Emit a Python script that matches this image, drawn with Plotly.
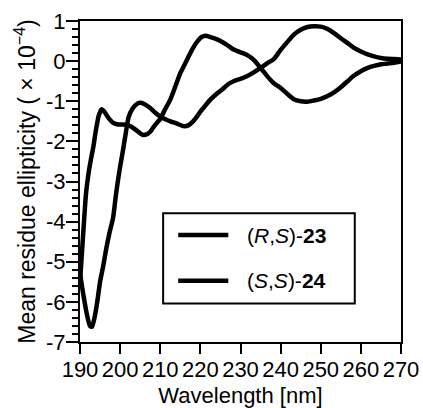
import plotly.graph_objects as go

# CD spectra: mean residue ellipticity (x 10^-4) versus wavelength (nm)
wl_23 = [190, 190.4, 190.8, 191.5, 192.2, 192.7, 193.3, 194, 194.7, 195.4, 196, 197,
         198.3, 199.5, 200.8, 202, 202.9, 204, 205, 205.8, 206.7, 207.5, 208.5, 209.3,
         210, 211, 212.5, 213.8, 215, 216.7, 218, 219.3, 220.3, 221.3, 222.5, 224, 225,
         226.7, 228.3, 230, 231.7, 233.3, 235, 236.7, 238.3, 240, 241.7, 243.3, 245,
         246.7, 248.3, 250, 251.7, 253.3, 255, 256.7, 258.3, 260, 261.7, 263.3, 265,
         266.7, 268.3, 270]
mre_23 = [-5.5, -4.9, -4.3, -3.3, -2.75, -2.46, -2.15, -1.7, -1.35, -1.2, -1.25, -1.4,
          -1.54, -1.58, -1.58, -1.6, -1.64, -1.72, -1.8, -1.84, -1.82, -1.76, -1.62, -1.52,
          -1.44, -1.24, -0.96, -0.62, -0.3, 0.04, 0.3, 0.5, 0.6, 0.63, 0.6, 0.55, 0.5,
          0.4, 0.29, 0.22, 0.15, 0.03, -0.17, -0.38, -0.55, -0.67, -0.82, -0.95, -1.0,
          -1.01, -0.98, -0.94, -0.87, -0.78, -0.65, -0.5, -0.36, -0.25, -0.17, -0.12, -0.08,
          -0.06, -0.04, -0.01]

wl_24 = [190, 190.8, 191.7, 192.5, 193, 193.6, 194.3, 195, 195.8, 196.5, 197.3, 198.25,
         199, 199.8, 200.75, 201.4, 202.1, 203, 204, 205, 206, 207.5, 208.7, 210, 211.3,
         212.5, 214, 215.8, 217, 218, 219, 220, 221.3, 222.5, 224, 225.5, 227, 228.3, 230,
         231.7, 233.3, 235, 236.7, 238.3, 240, 241.7, 243.3, 245, 246.7, 248.3, 250, 251.7,
         253.3, 255, 256.7, 258.3, 260, 261.7, 263.3, 265, 266.7, 268.3, 270]
mre_24 = [-5.3, -5.8, -6.3, -6.6, -6.62, -6.4, -6.0, -5.5, -5.1, -4.7, -4.3, -3.9,
          -3.3, -2.75, -2.2, -1.8, -1.4, -1.2, -1.08, -1.04, -1.07, -1.17, -1.28, -1.38, -1.45,
          -1.5, -1.55, -1.62, -1.6, -1.52, -1.4, -1.26, -1.1, -0.96, -0.82, -0.7, -0.57, -0.5, -0.44,
          -0.37, -0.28, -0.17, -0.05, 0.05, 0.28, 0.48, 0.66, 0.78, 0.85, 0.87, 0.86, 0.8,
          0.7, 0.57, 0.45, 0.33, 0.24, 0.17, 0.12, 0.08, 0.06, 0.05, 0.04]

x_ticks = [190, 200, 210, 220, 230, 240, 250, 260, 270]
y_ticks = [1, 0, -1, -2, -3, -4, -5, -6, -7]
y_tick_text = ["1", "0", "-1", "-2", "-3", "-4", "-5", "-6", "-7"]

series_names = ["(<i>R</i>,<i>S</i>)-<b>23</b>", "(<i>S</i>,<i>S</i>)-<b>24</b>"]
series_x = [wl_23, wl_24]
series_y = [mre_23, mre_24]

FONT = "Liberation Sans, Arial, sans-serif"
LINE_W = 4.5

fig = go.Figure()
for name, x, y in zip(series_names, series_x, series_y):
    fig.add_trace(go.Scatter(
        x=x, y=y, mode="lines", name=name, showlegend=False,
        line=dict(color="black", width=LINE_W, shape="spline", smoothing=0.6),
    ))

# Boxed key inside the lower-right part of the axes (paper coordinates)
key_x0, key_x1 = 0.259, 0.856
key_y0, key_y1 = 0.120, 0.401
key_rows = [0.333, 0.191]
fig.add_shape(type="rect", xref="paper", yref="paper",
              x0=key_x0, x1=key_x1, y0=key_y0, y1=key_y1,
              line=dict(color="black", width=2), fillcolor="white", layer="above")
for name, ry in zip(series_names, key_rows):
    fig.add_shape(type="line", xref="paper", yref="paper",
                  x0=0.306, x1=0.462, y0=ry, y1=ry,
                  line=dict(color="black", width=LINE_W), layer="above")
    fig.add_annotation(xref="paper", yref="paper", x=0.515, y=ry,
                       xanchor="left", yanchor="middle", text=name,
                       showarrow=False, font=dict(size=21, color="black"))

fig.update_layout(
    width=423, height=408,
    margin=dict(l=80, r=22, t=21, b=66, autoexpand=False),
    paper_bgcolor="white", plot_bgcolor="white",
    font=dict(family=FONT, size=22, color="black"),
    showlegend=False,
)

fig.update_xaxes(
    range=[190, 270], tickvals=x_ticks, tickangle=0, automargin=False,
    ticks="outside", ticklen=10, tickwidth=2, tickcolor="black",
    tickfont=dict(size=22), ticklabelstandoff=-3,
    showline=True, linewidth=2, linecolor="black", mirror=True,
    showgrid=False, zeroline=False,
    title=dict(text="Wavelength [nm]", font=dict(size=22), standoff=13),
)
fig.update_yaxes(
    range=[-7, 1], tickvals=y_ticks, ticktext=y_tick_text, automargin=False,
    ticks="outside", ticklen=12, tickwidth=2, tickcolor="black",
    tickfont=dict(size=22), ticklabelstandoff=-4,
    minor=dict(dtick=0.2, ticks="outside", ticklen=6, tickwidth=1.5, tickcolor="black"),
    showline=True, linewidth=2, linecolor="black", mirror=True,
    showgrid=False, zeroline=False,
    title=dict(text="Mean residue ellipticity ( × 10<sup>−4</sup>)", font=dict(size=23), standoff=4),
)

fig.write_html("out.html")
